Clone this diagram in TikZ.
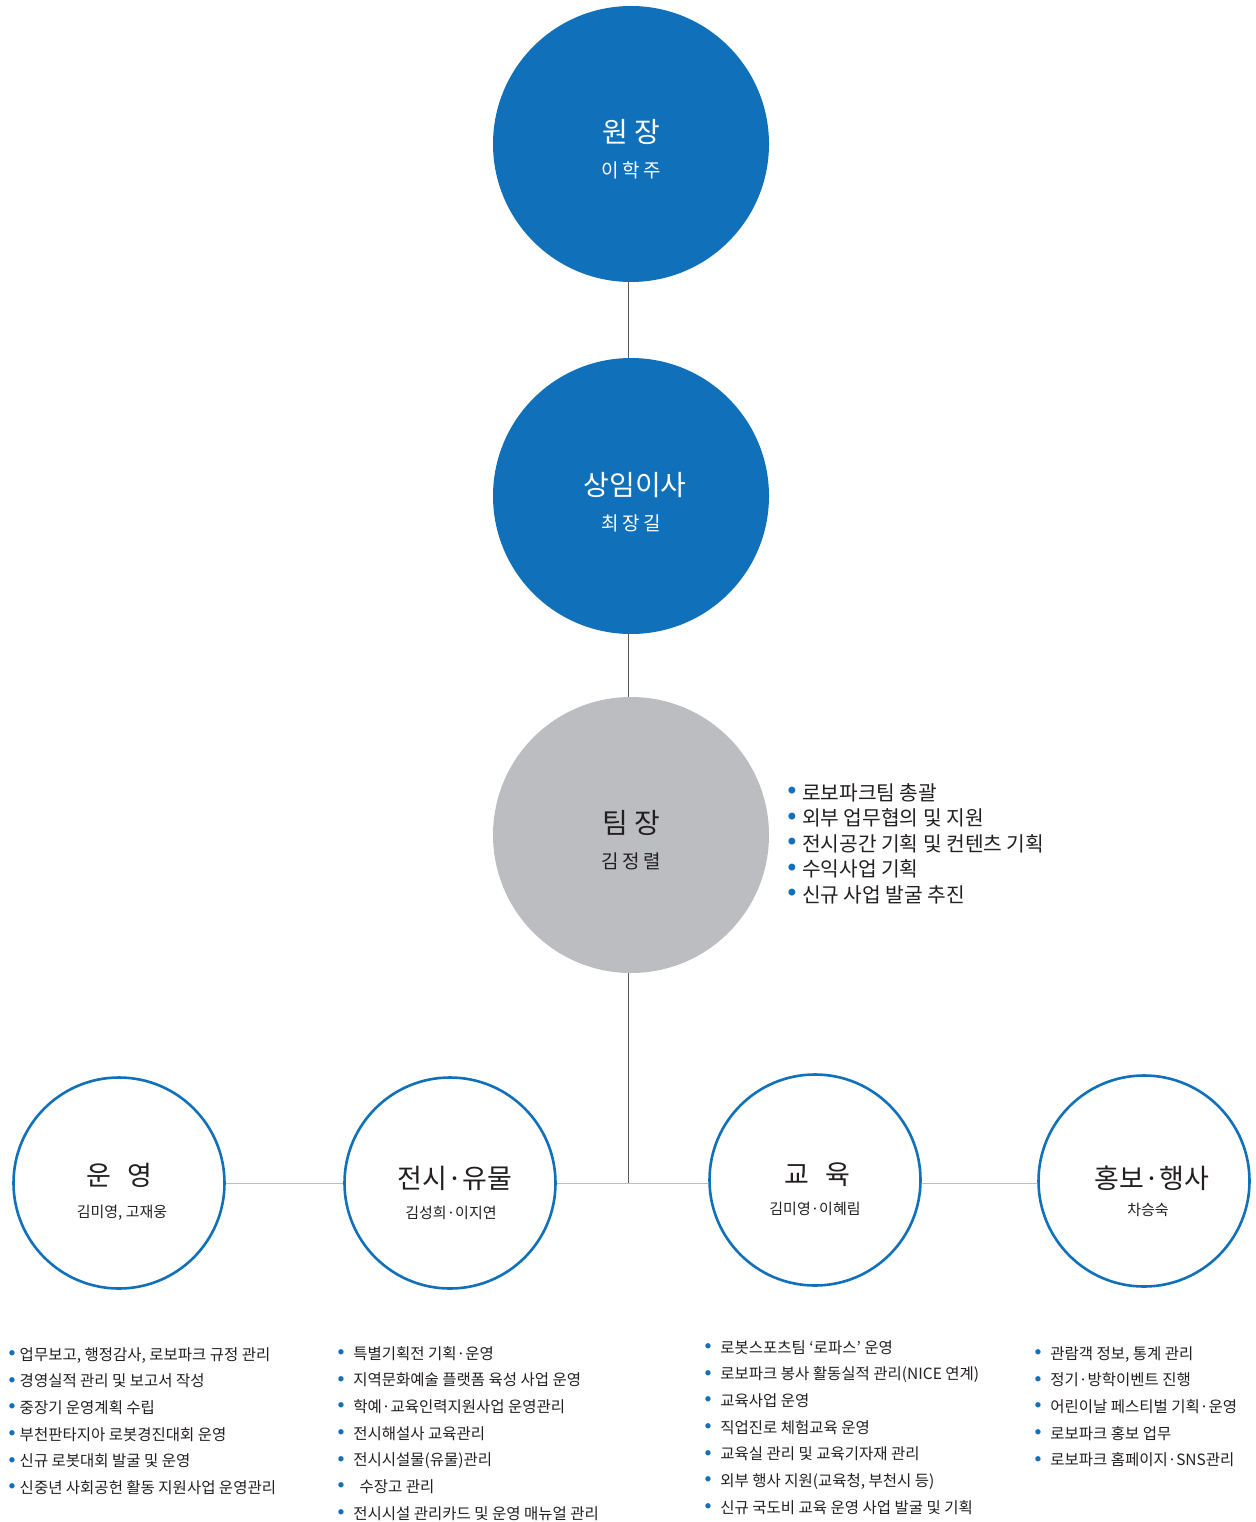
\documentclass[tikz,border=0pt]{standalone}
\usepackage{fontspec}
\setmainfont{Noto Sans CJK KR}
\usetikzlibrary{positioning}
\definecolor{orgblue}{HTML}{1071BA}
\definecolor{orggray}{HTML}{BCBDC1}
\definecolor{linegray}{HTML}{BDBDBD}
\definecolor{textdark}{HTML}{231F20}
\newcommand{\bul}{\textcolor{orgblue}{\raisebox{0.3em}{\scalebox{0.38}{●}}}\hspace{0.3em}}
\tikzset{
  bigcircle/.style={circle, minimum size=276pt, inner sep=0pt},
  smallcircle/.style={circle, draw=orgblue, line width=2.6pt, minimum size=211pt, inner sep=0pt, fill=white},
  bigtitle/.style={font=\fontsize{28}{32}\selectfont, inner sep=0pt},
  bigname/.style={font=\fontsize{19}{22}\selectfont\addfontfeatures{LetterSpace=18}, inner sep=0pt},
  smalltitle/.style={font=\fontsize{27}{32}\selectfont, text=textdark, inner sep=0pt},
  smallname/.style={font=\fontsize{15}{18}\selectfont, text=textdark, inner sep=0pt},
  dutylist/.style={font=\fontsize{15.5}{26.7}\selectfont, text=textdark, align=left, anchor=north west, inner sep=0pt},
  connector/.style={draw=linegray, line width=1pt}
}
\begin{document}
\begin{tikzpicture}[x=1pt, y=-1pt]
    \useasboundingbox (0,0) rectangle (1255,1522);
    % top of the chart
    \node[bigcircle, fill=orgblue] (wonjang) at (631,144) {};
    \node[bigcircle, fill=orgblue] (isa) at (631,496) {};
    \node[bigcircle, fill=orggray] (teamjang) at (631,835) {};
    \draw[draw=black!65, line width=1pt] (628,282) -- (628,358);
    \draw[draw=black!65, line width=1pt] (628,634) -- (628,697);
    \node[bigtitle, text=white] (wonjangt) at (631,132) {원 장};
    \node[bigname, text=white] (wonjangn) at (631,170) {이학주};
    \node[bigtitle, text=white] (isat) at (635,485) {상임이사};
    \node[bigname, text=white] (isan) at (631,523) {최장길};
    \node[bigtitle, text=textdark] (teamjangt) at (631,823) {팀 장};
    \node[bigname, text=textdark] (teamjangn) at (631,861) {김정렬};
    \node[dutylist, font=\fontsize{20.3}{25.5}\selectfont] (teamduty) at (788,783) {%
        \bul 로보파크팀 총괄\\
        \bul 외부 업무협의 및 지원\\
        \bul 전시공간 기획 및 컨텐츠 기획\\
        \bul 수익사업 기획\\
        \bul 신규 사업 발굴 추진};
    % the four teams
    \node[smallcircle] (unyoung) at (119,1183) {};
    \node[smallcircle] (jeonsi) at (450,1183) {};
    \node[smallcircle] (gyoyuk) at (815,1180) {};
    \node[smallcircle] (hongbo) at (1144,1181) {};
    \coordinate (branch) at (628,1183);
    \draw[draw=black!65, line width=1pt] (teamjang.south -| branch) -- (branch);
    \draw[connector] (unyoung.east) -- (jeonsi.west);
    \draw[connector] (jeonsi.east) -- (gyoyuk.west |- jeonsi.east);
    \draw[connector] (gyoyuk.east |- jeonsi.east) -- (hongbo.west |- jeonsi.east);
    \node[smalltitle] (unyoungt) at (119,1175) {운\hspace{0.6em}영};
    \node[smallname] (unyoungn) at (122,1213) {김미영, 고재웅};
    \node[smalltitle] (jeonsit) at (455,1178) {전시·유물};
    \node[smallname] (jeonsin) at (451,1213) {김성희·이지연};
    \node[smalltitle] (gyoyukt) at (817,1175) {교\hspace{0.6em}육};
    \node[smallname] (gyoyukn) at (815,1209) {김미영·이혜림};
    \node[smalltitle] (hongbot) at (1152,1178) {홍보·행사};
    \node[smallname] (hongbon) at (1148,1210) {차승숙};
    % duties of each team
    \node[dutylist] (unyoungduty) at (9,1347) {%
        \bul 업무보고, 행정감사, 로보파크 규정 관리\\
        \bul 경영실적 관리 및 보고서 작성\\
        \bul 중장기 운영계획 수립\\
        \bul 부천판타지아 로봇경진대회 운영\\
        \bul 신규 로봇대회 발굴 및 운영\\
        \bul 신중년 사회공헌 활동 지원사업 운영관리};
    \node[dutylist] (jeonsiduty) at (338,1346) {%
        \bul\hspace{0.3em}특별기획전 기획·운영\\
        \bul\hspace{0.3em}지역문화예술 플랫폼 육성 사업 운영\\
        \bul\hspace{0.3em}학예·교육인력지원사업 운영관리\\
        \bul\hspace{0.3em}전시해설사 교육관리\\
        \bul\hspace{0.3em}전시시설물(유물)관리\\
        \bul\hspace{0.7em}수장고 관리\\
        \bul\hspace{0.3em}전시시설 관리카드 및 운영 매뉴얼 관리};
    \node[dutylist] (gyoyukduty) at (705,1340) {%
        \bul\hspace{0.3em}로봇스포츠팀 ‘로파스’ 운영\\
        \bul\hspace{0.3em}로보파크 봉사 활동실적 관리(NICE 연계)\\
        \bul\hspace{0.3em}교육사업 운영\\
        \bul\hspace{0.3em}직업진로 체험교육 운영\\
        \bul\hspace{0.3em}교육실 관리 및 교육기자재 관리\\
        \bul\hspace{0.3em}외부 행사 지원(교육청, 부천시 등)\\
        \bul\hspace{0.3em}신규 국도비 교육 운영 사업 발굴 및 기획};
    \node[dutylist] (hongboduty) at (1035,1346) {%
        \bul\hspace{0.3em}관람객 정보, 통계 관리\\
        \bul\hspace{0.3em}정기·방학이벤트 진행\\
        \bul\hspace{0.3em}어린이날 페스티벌 기획·운영\\
        \bul\hspace{0.3em}로보파크 홍보 업무\\
        \bul\hspace{0.3em}로보파크 홈페이지·SNS관리};
\end{tikzpicture}
\end{document}
